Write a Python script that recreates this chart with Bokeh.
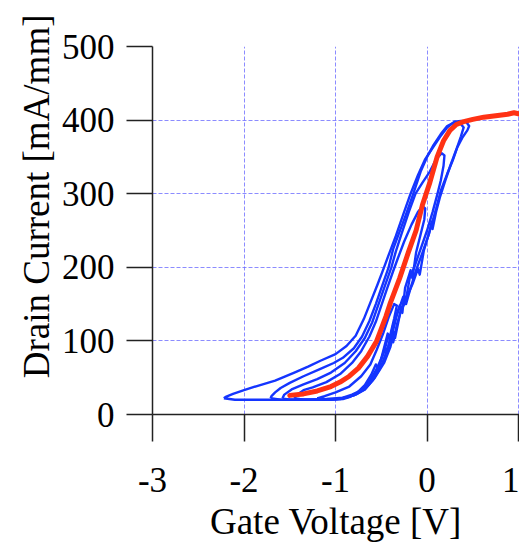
from bokeh.plotting import figure
from bokeh.models import FixedTicker, Range1d, Title
from bokeh.embed import file_html
from bokeh.resources import INLINE

# ---- data -------------------------------------------------------------
x_ticks = [-3, -2, -1, 0, 1]
x_tick_labels = ["-3", "-2", "-1", "0", "1"]
y_ticks = [0, 100, 200, 300, 400, 500]
y_tick_labels = ["0", "100", "200", "300", "400", "500"]
x_title = "Gate Voltage [V]"
y_title = "Drain Current [mA/mm]"

# red reference curve
red_vg = [-1.50, -1.35, -1.20, -1.05, -0.95, -0.85, -0.75, -0.65, -0.55, -0.45,
          -0.40, -0.30, -0.20, -0.12, -0.05, 0.03, 0.11, 0.18, 0.25, 0.32,
          0.40, 0.50, 0.62, 0.75, 0.88, 0.95, 1.02]
red_id = [26, 28, 32, 38, 44, 52, 63, 79, 100, 133,
          152, 185, 222, 250, 285, 315, 350, 372, 386, 394,
          398, 401, 404, 406, 408, 410, 408]

# blue hysteresis loops (lower branch then upper branch back)
loop_a_vg = [-2.22, -2.10, -1.80, -1.50, -1.20, -0.95, -0.80, -0.68, -0.57, -0.47,
             -0.40, -0.36, -0.35, -0.31, -0.29, -0.25, -0.22, -0.16, -0.10, -0.08,
             -0.035, 0.04, 0.10, 0.15, 0.22, 0.28, 0.33, 0.39, 0.44, 0.46,
             0.43, 0.37, 0.30, 0.22, 0.14, 0.06, -0.02, -0.10, -0.18, -0.26,
             -0.34, -0.41, -0.47, -0.54, -0.61, -0.69, -0.78, -0.88, -1.00, -1.165,
             -1.30, -1.45, -1.66, -1.85, -2.00, -2.12, -2.20, -2.22]
loop_a_id = [22, 20, 20, 20, 20, 21, 26, 34, 50, 70,
             92, 112, 104, 128, 140, 150, 160, 177, 198, 190,
             223, 254, 280, 304, 327, 345, 363, 377, 386, 392,
             397, 399, 398, 390, 377, 362, 347, 325, 300, 272,
             243, 220, 200, 177, 155, 130, 107, 93, 82, 73,
             65, 57, 46, 39, 33, 28, 24, 22]

loop_b_vg = [-1.71, -1.60, -1.40, -1.20, -1.00, -0.88, -0.78, -0.68, -0.59, -0.50,
             -0.43, -0.38, -0.37, -0.33, -0.28, -0.24, -0.23, -0.18, -0.12, -0.05,
             0.02, 0.05, 0.06, 0.10, 0.14, 0.20, 0.26, 0.32, 0.37, 0.40,
             0.36, 0.30, 0.22, 0.15, 0.07, 0.00, -0.07, -0.15, -0.23, -0.31,
             -0.37, -0.42, -0.49, -0.56, -0.63, -0.71, -0.80, -0.92, -1.02, -1.165,
             -1.35, -1.50, -1.60, -1.66, -1.70, -1.71]
loop_b_id = [22, 20, 20, 20, 21, 23, 27, 34, 47, 66,
             90, 108, 98, 122, 143, 160, 150, 172, 196, 220,
             245, 262, 252, 276, 295, 318, 340, 360, 378, 390,
             396, 397, 392, 381, 366, 350, 330, 300, 272, 245,
             225, 200, 175, 150, 127, 106, 90, 77, 70, 62,
             52, 43, 36, 30, 25, 22]

loop_c_vg = [-1.58, -1.50, -1.30, -1.10, -0.92, -0.82, -0.72, -0.63, -0.55, -0.47,
             -0.42, -0.40, -0.33, -0.26, -0.24, -0.19, -0.14, -0.07, 0.00, 0.06,
             0.11, 0.15, 0.18, 0.19,
             0.16, 0.10, 0.03, -0.05, -0.126, -0.20, -0.28, -0.34, -0.39, -0.46,
             -0.53, -0.60, -0.68, -0.78, -0.90, -1.05, -1.20, -1.35, -1.48,
             -1.56, -1.58]
loop_c_id = [22, 20, 20, 21, 23, 27, 33, 45, 62, 85,
             108, 100, 135, 160, 150, 185, 200, 225, 250, 275,
             298, 318, 338, 352,
             355, 347, 330, 315, 300, 275, 245, 222, 200, 175,
             150, 125, 104, 86, 70, 57, 48, 41, 34,
             27, 22]

loop_d_vg = [-1.45, -1.35, -1.15, -0.98, -0.86, -0.76, -0.66, -0.58, -0.51, -0.46,
             -0.44, -0.37, -0.30, -0.27, -0.24, -0.18, -0.16, -0.12, -0.07, -0.03,
             -0.02,
             -0.05, -0.10, -0.17, -0.25, -0.32, -0.37, -0.44, -0.50, -0.56, -0.63,
             -0.72, -0.82, -0.95, -1.10, -1.25, -1.35, -1.42, -1.45]
loop_d_id = [22, 20, 20, 21, 24, 29, 38, 52, 70, 92,
             84, 122, 148, 138, 172, 196, 185, 220, 245, 265,
             280,
             283, 275, 258, 235, 212, 195, 170, 148, 126, 106,
             86, 70, 55, 44, 37, 33, 27, 22]

loop_e_vg = [-1.20, -1.05, -0.92, -0.84, -0.76, -0.68, -0.61, -0.56, -0.53, -0.48,
             -0.43, -0.41, -0.36, -0.33,
             -0.36, -0.42, -0.48, -0.55, -0.62, -0.72, -0.85, -1.00, -1.12, -1.20]
loop_e_id = [22, 20, 21, 24, 30, 40, 54, 68, 62, 86,
             110, 104, 130, 148,
             150, 132, 110, 88, 68, 52, 38, 30, 25, 22]

blue_loops = [(loop_a_vg, loop_a_id), (loop_b_vg, loop_b_id),
              (loop_c_vg, loop_c_id), (loop_d_vg, loop_d_id),
              (loop_e_vg, loop_e_id)]

# ---- figure -----------------------------------------------------------
FONT = "Liberation Serif"
p = figure(width=519, height=544, output_backend="svg", toolbar_location=None,
           x_range=Range1d(-3, 1.01), y_range=Range1d(0, 500),
           min_border_left=152, min_border_right=0,
           min_border_top=46, min_border_bottom=130)
p.outline_line_color = None
p.background_fill_color = "white"
p.border_fill_color = "white"

for ax, ticks, labels in ((p.xaxis[0], x_ticks, x_tick_labels),
                          (p.yaxis[0], y_ticks, y_tick_labels)):
    ax.ticker = FixedTicker(ticks=ticks)
    ax.major_label_overrides = {t: l for t, l in zip(ticks, labels)}
    ax.major_tick_out = 26
    ax.major_tick_in = 0
    ax.minor_tick_out = 0
    ax.minor_tick_in = 0
    ax.axis_line_color = "#222222"
    ax.axis_line_width = 1.5
    ax.major_tick_line_color = "#222222"
    ax.major_tick_line_width = 1.5
    ax.major_label_text_font = FONT
    ax.major_label_text_font_size = "35px"
    ax.major_label_text_color = "black"
p.xaxis.major_label_standoff = 26
p.yaxis.major_label_standoff = 12
p.xaxis.major_tick_out = 27

# x title as axis label
p.xaxis.axis_label = x_title
p.xaxis.axis_label_text_font = FONT
p.xaxis.axis_label_text_font_size = "37px"
p.xaxis.axis_label_text_font_style = "normal"
p.xaxis.axis_label_text_color = "black"
p.xaxis.axis_label_standoff = 6

# y title (shifted upward like the reference)
p.add_layout(Title(text=y_title, align="right", offset=-32, standoff=4,
                   text_font=FONT, text_font_size="37px",
                   text_font_style="normal", text_color="black"), "left")

for g in (p.xgrid[0], p.ygrid[0]):
    g.grid_line_color = "#6f6fff"
    g.grid_line_alpha = 0.8
    g.grid_line_dash = "4 2"
    g.grid_line_width = 1

for vg, i_d in blue_loops:
    p.line(vg, i_d, line_color="#1435ff", line_width=2.4, line_join="round")

p.line(red_vg, red_id, line_color="#ff3214", line_width=5, line_join="round",
       line_cap="round")

open("out.html", "w").write(file_html(p, INLINE))
